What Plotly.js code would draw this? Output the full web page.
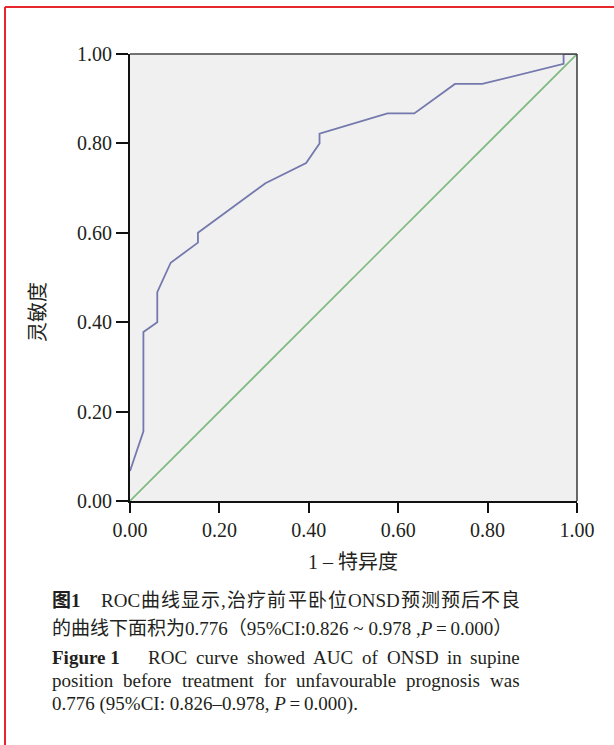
<!DOCTYPE html>
<html>
<head>
<meta charset="utf-8">
<script src="https://cdn.plot.ly/plotly-3.0.1.min.js"></script>
<style>html,body{margin:0;padding:0;background:#fff;}#chart{width:614px;height:745px;}</style>
</head>
<body>
<div id="chart"></div>
<script>
// ---- data ----
const fpr = [0.000, 0.030, 0.030, 0.061, 0.061, 0.091, 0.152, 0.152, 0.303, 0.394, 0.424, 0.424, 0.576, 0.636, 0.727, 0.788, 0.970, 0.970, 1.000];
const tpr = [0.067, 0.156, 0.378, 0.400, 0.467, 0.533, 0.578, 0.600, 0.711, 0.756, 0.800, 0.822, 0.867, 0.867, 0.933, 0.933, 0.978, 1.000, 1.000];
const refX = [0, 1];
const refY = [0, 1];
const tickVals = [0, 0.2, 0.4, 0.6, 0.8, 1.0];
const tickText = ['0.00', '0.20', '0.40', '0.60', '0.80', '1.00'];
const xTitle = '1 – 特异度';
const yTitle = '灵敏度';
const capZhLabel = '图1';
const capZh1 = ['ROC','曲','线','显','示',',','治','疗','前','平','卧','位','ONSD','预','测','预','后','不','良'];
const capZh2 = '的曲线下面积为0.776（95%CI:0.826 ~ 0.978 ,<i>P</i>\u2009=\u20090.000）';
const capEnLabel = 'Figure 1';
const capEn1 = ['ROC','curve','showed','AUC','of','ONSD','in','supine'];
const capEn2 = ['position','before','treatment','for','unfavourable','prognosis','was'];
const capEn3 = '0.776 (95%CI: 0.826–0.978, <i>P</i>\u2009=\u20090.000).';

// ---- geometry ----
const W = 614, H = 745, L = 130, R = 577, T = 54, B = 501;
const px2x = p => (p - L) / (R - L);
const py2y = p => (B - p) / (B - T);
const SERIF = "'Liberation Serif', 'Noto Sans CJK SC', serif";
const CAP = 19;
const cv = document.createElement('canvas').getContext('2d');
function meas(t, bold) { cv.font = (bold ? 'bold ' : '') + CAP + "px 'Liberation Serif', 'Noto Sans CJK SC'"; return cv.measureText(t).width; }

const annotations = [];
function ann(text, xp, yp, opts) {
  annotations.push(Object.assign({
    text: text, xref: 'paper', yref: 'paper', x: px2x(xp), y: py2y(yp),
    xanchor: 'left', yanchor: 'middle', showarrow: false, borderpad: 0, borderwidth: 0,
    font: {family: SERIF, size: CAP, color: '#231f20'}
  }, opts || {}));
}
function justify(tokens, x0, x1, yp) {
  const ws = tokens.map(t => meas(t));
  const total = ws.reduce((a, b) => a + b, 0);
  const gap = (x1 - x0 - total) / (tokens.length - 1);
  let x = x0;
  tokens.forEach((t, i) => { ann(t, x, yp); x += ws[i] + gap; });
}

// axis titles
ann(yTitle, 38, 312, {xanchor: 'center', textangle: -90, font: {family: SERIF, size: 20, color: '#231f20'}});
ann(xTitle, 353, 562, {xanchor: 'center', font: {family: SERIF, size: 20, color: '#231f20'}});

// captions
ann('<b>' + capZhLabel + '</b>', 52, 600);
justify(capZh1, 101, 520, 600);
ann(capZh2, 52, 628);
ann('<b>' + capEnLabel + '</b>', 52, 657);
justify(capEn1, 148, 520, 657);
justify(capEn2, 52, 520, 680);
ann(capEn3, 52, 704);

const traces = [
  {x: refX, y: refY, type: 'scatter', mode: 'lines', line: {color: '#7cb97c', width: 1.6}, cliponaxis: false, hoverinfo: 'skip'},
  {x: fpr, y: tpr, type: 'scatter', mode: 'lines', line: {color: '#7479ad', width: 1.8}, cliponaxis: false, hoverinfo: 'skip'}
];

const axisCommon = {
  range: [0, 1], tickvals: tickVals, ticktext: tickText, ticks: 'outside', tickwidth: 2, tickcolor: '#111',
  showline: true, linecolor: '#111', linewidth: 2, showgrid: false, zeroline: false, fixedrange: true,
  tickfont: {family: SERIF, size: 20, color: '#231f20'}
};

const layout = {
  width: W, height: H, showlegend: false,
  margin: {l: L, r: W - R, t: T, b: H - B, pad: 0},
  paper_bgcolor: '#ffffff', plot_bgcolor: '#f0f0f1',
  xaxis: Object.assign({}, axisCommon, {ticklen: 10}),
  yaxis: Object.assign({}, axisCommon, {ticklen: 12}),
  annotations: annotations,
  shapes: [
    {type: 'line', xref: 'paper', yref: 'paper', x0: 0, x1: 1, y0: 1, y1: 1, line: {color: '#444', width: 1.6}},
    {type: 'line', xref: 'paper', yref: 'paper', x0: 1, x1: 1, y0: 0, y1: 1, line: {color: '#444', width: 1.6}},
    {type: 'line', xref: 'paper', yref: 'paper', x0: px2x(5), x1: px2x(614), y0: py2y(7), y1: py2y(7), line: {color: '#e8262e', width: 2}},
    {type: 'line', xref: 'paper', yref: 'paper', x0: px2x(5), x1: px2x(5), y0: py2y(7), y1: py2y(745), line: {color: '#e8262e', width: 2}}
  ]
};

Plotly.newPlot('chart', traces, layout, {staticPlot: true, displayModeBar: false});
</script>
</body>
</html>
